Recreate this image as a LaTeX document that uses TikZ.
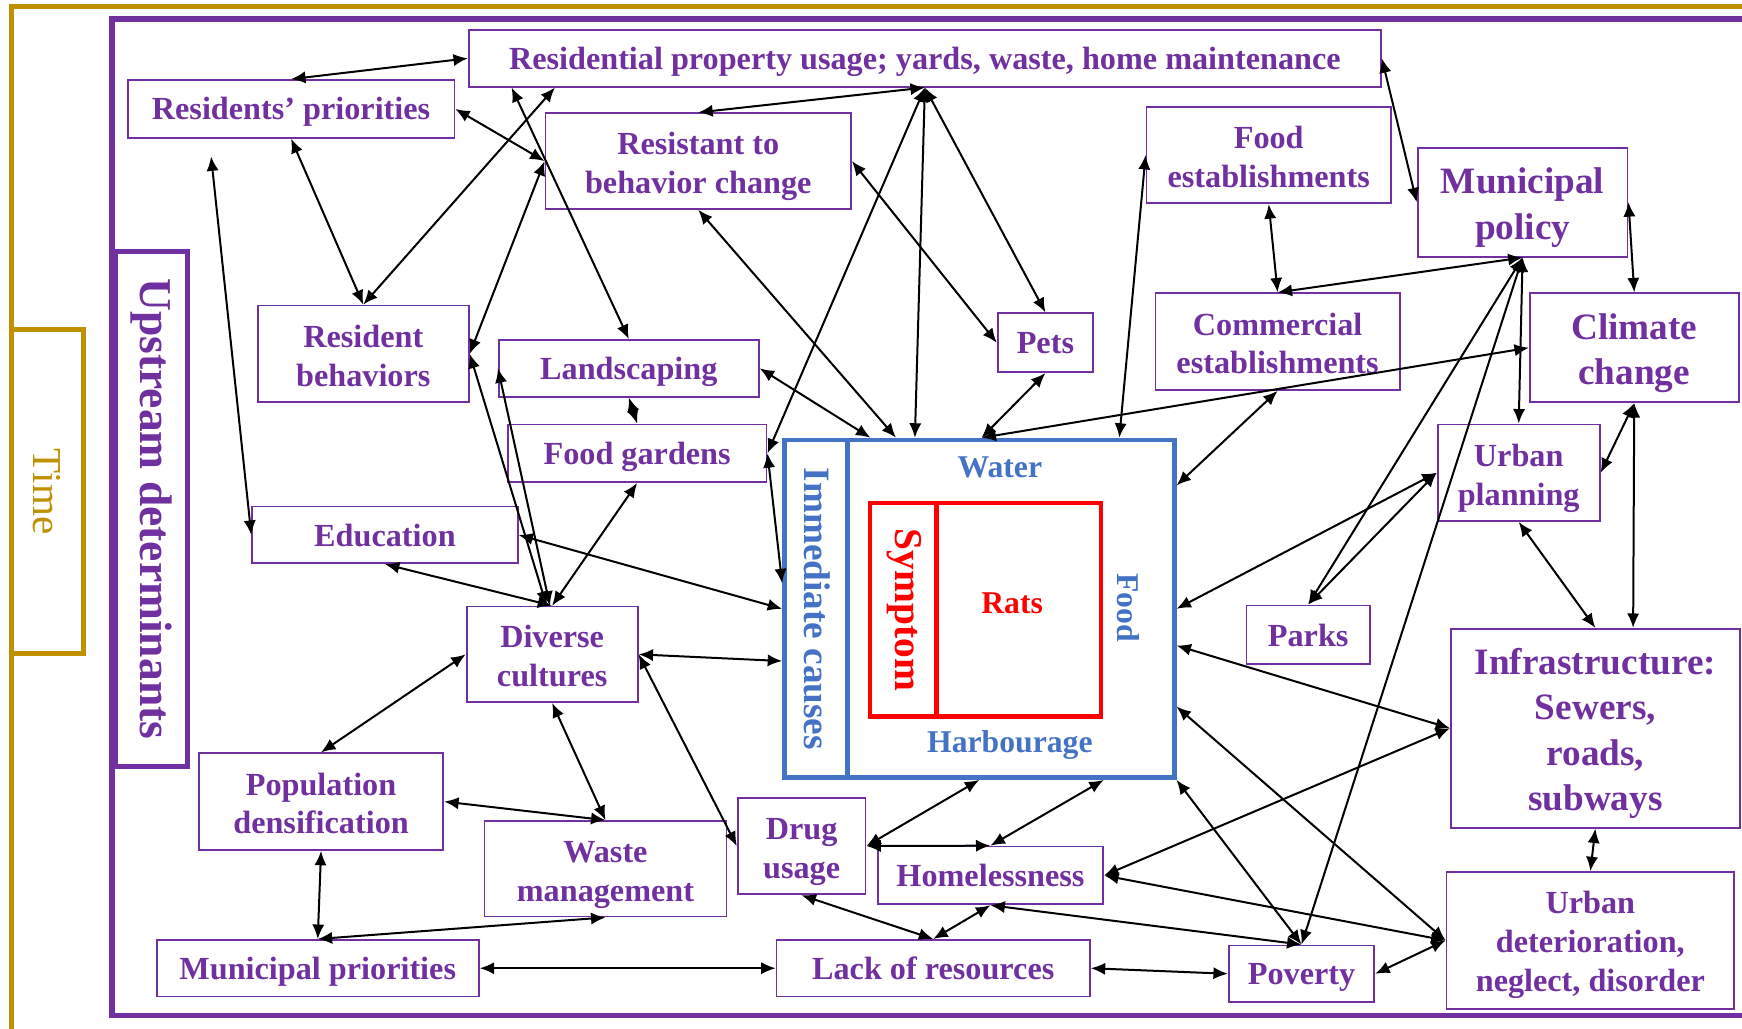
\documentclass[tikz,border=0pt]{standalone}
\usepackage{fontspec}
\setmainfont{Liberation Serif}
\definecolor{vio}{RGB}{112,48,160}
\definecolor{gld}{RGB}{191,144,0}
\definecolor{blu}{RGB}{68,114,196}
\definecolor{rd}{RGB}{255,0,0}
\usetikzlibrary{arrows.meta}

\begin{document}
\begin{tikzpicture}[x=1pt, y=-1pt, >={Latex[length=13pt,width=11pt]},
  box/.style={draw=vio, line width=1.6pt, text=vio, inner sep=0pt, align=center, font=\bfseries\fontsize{29}{35}\selectfont,
    text height=#1, text depth=5.8pt},
  box/.default=25.8pt,
  bigbox/.style={box=#1, font=\bfseries\fontsize{33.5}{41}\selectfont, text depth=6.7pt},
  lbl/.style={inner sep=0pt, align=center, font=\bfseries\fontsize{28.5}{34}\selectfont},
  link/.style={<->, line width=1.8pt, black}]
  \useasboundingbox (0,0) rectangle (1568,926);
  \clip (0,0) rectangle (1568,926);
  % frames
  \draw[gld, line width=4.5pt] (10,1000) -- (10,6) -- (1700,6);
  \draw[vio, line width=5pt] (1700,17) -- (101,17) -- (101,914) -- (1700,914);
  \node[draw=gld, line width=4.5pt, rotate=-90, minimum width=291pt, minimum height=65pt, text=gld, font=\fontsize{37}{40}\selectfont] (T_M) at (42.5,442.5) {Time};
  \node[draw=vio, line width=4.5pt, rotate=-90, minimum width=464pt, minimum height=65pt, text=vio, font=\bfseries\fontsize{41}{44}\selectfont] (U_S) at (136.5,458) {Upstream determinants};

  % upstream boxes
  \node[box, minimum width=821pt, minimum height=51pt] (R_U) at (832.5,52.5) {Residential property usage; yards, waste, home maintenance};
  \node[box, minimum width=294pt, minimum height=52pt] (R_P) at (262,98) {Residents’ priorities};
  \node[box=64pt, minimum width=275pt, minimum height=86pt] (R_C) at (628.5,145) {Resistant to\\behavior change};
  \node[box=64pt, minimum width=220pt, minimum height=87pt] (F_E) at (1142,139.5) {Food\\establishments};
  \node[bigbox=73.5pt, minimum width=189pt, minimum height=98pt] (M_P) at (1370.5,182) {Municipal\\policy};
  \node[box=64pt, minimum width=190pt, minimum height=87pt] (R_B) at (327,318.5) {Resident\\behaviors};
  \node[box, minimum width=234pt, minimum height=51pt] (L_S) at (566,331.5) {Landscaping};
  \node[box, minimum width=86pt, minimum height=53pt] (P_T) at (941,308.5) {Pets};
  \node[box=64pt, minimum width=220pt, minimum height=87pt] (C_E) at (1150,307.5) {Commercial\\establishments};
  \node[bigbox=73.5pt, minimum width=188pt, minimum height=98pt] (C_C) at (1471,313) {Climate\\change};
  \node[box, minimum width=233pt, minimum height=52pt] (F_G) at (573.5,408) {Food gardens};
  \node[box, minimum width=239pt, minimum height=51pt] (E_D) at (346.5,481.5) {Education};
  \node[box=64pt, minimum width=146pt, minimum height=87pt] (U_P) at (1367,425.5) {Urban\\planning};
  \node[box=64pt, minimum width=154pt, minimum height=86pt] (D_C) at (497,589) {Diverse\\cultures};
  \node[box, minimum width=111pt, minimum height=53pt] (P_K) at (1177.5,571.5) {Parks};
  \node[bigbox=155.5pt, minimum width=260pt, minimum height=179pt] (I_F) at (1436,655.5) {Infrastructure:\\Sewers,\\roads,\\subways};
  \node[box=64pt, minimum width=220pt, minimum height=87pt] (P_D) at (289,721.5) {Population\\densification};
  \node[box=64pt, minimum width=218pt, minimum height=86pt] (W_M) at (545,782) {Waste\\management};
  \node[box=64pt, minimum width=115pt, minimum height=87pt] (D_U) at (721.5,761.5) {Drug\\usage};
  \node[box, minimum width=203pt, minimum height=52pt] (H_L) at (891.5,788) {Homelessness};
  \node[box=98pt, minimum width=259pt, minimum height=123pt] (U_D) at (1431.5,846.5) {Urban\\deterioration,\\neglect, disorder};
  \node[box, minimum width=290pt, minimum height=51pt] (M_R) at (286,871.5) {Municipal priorities};
  \node[box, minimum width=282pt, minimum height=51pt] (L_R) at (840,871.5) {Lack of resources};
  \node[box, minimum width=131pt, minimum height=51pt] (P_V) at (1171.5,876.5) {Poverty};

  % immediate causes and symptom
  \node[draw=blu, line width=4pt, minimum width=351pt, minimum height=304pt] (I_C) at (881.5,548) {};
  \draw[blu, line width=4pt] ([xshift=59pt]I_C.north west) -- ([xshift=59pt]I_C.south west);
  \node[lbl, text=blu, rotate=-90, font=\bfseries\fontsize{33.5}{36}\selectfont] (I_T) at (735.5,548) {Immediate causes};
  \node[lbl, text=blu] (W_T) at (900,421) {Water};
  \node[lbl, text=blu] (H_T) at (909,671) {Harbourage};
  \node[lbl, text=blu, rotate=-90] (F_T) at (1016,547) {Food};
  \node[draw=rd, line width=4pt, minimum width=208pt, minimum height=192pt] (S_R) at (887,549) {};
  \draw[rd, line width=4pt] ([xshift=62pt]S_R.north west) -- ([xshift=62pt]S_R.south west);
  \node[lbl, text=rd, rotate=-90, font=\bfseries\fontsize{35.5}{38}\selectfont] (S_T) at (814,549) {Symptom};
  \node[lbl, text=rd] (R_T) at (911,543) {Rats};

  \path (R_P.north) edge [link] (R_U.west)
        ([xshift=-333pt]R_U.south) edge [link] (R_B.north)
        (R_P.south) edge [link] (R_B.north)
        (R_P.east) edge [link] (R_C.west)
        (R_C.west) edge [link] (R_B.east)
        ([xshift=-372pt]R_U.south) edge [link] (L_S.north)
        ([xshift=-72pt,yshift=-16pt]R_P.south) edge [link] (E_D.west)
        (R_C.south) edge [link] ([xshift=-75pt]I_C.north)
        (R_C.east) edge [link] (P_T.west)
        (R_U.south) edge [link] (R_C.north)
        (R_U.south) edge [link] (P_T.north)
        (R_U.south) edge [link] ([xshift=-58pt]I_C.north)
        (R_U.south) edge [link] (F_G.east)
        (R_U.east) edge [link] (M_P.west)
        (F_E.west) edge [link] ([xshift=126pt]I_C.north)
        (F_E.south) edge [link] (C_E.north)
        (M_P.south) edge [link] (C_E.north)
        (M_P.east) edge [link] (C_C.north)
        (M_P.south) edge [link] (U_P.north)
        (M_P.south) edge [link] (P_K.north)
        (M_P.south) edge [link] (P_V.north)
        (C_E.south) edge [link] ([yshift=111pt]I_C.east)
        (C_C.west) edge [link] ([xshift=2pt]I_C.north)
        (P_T.south) edge [link] ([xshift=2pt]I_C.north)
        (L_S.east) edge [link] ([xshift=-98pt]I_C.north)
        (L_S.south) edge [link] (F_G.north)
        (F_G.east) edge [link] ([yshift=23pt]I_C.west)
        (E_D.east) edge [link] (I_C.west)
        (F_G.south) edge [link] (D_C.north)
        (E_D.south) edge [link] (D_C.north)
        (R_B.east) edge [link] ([xshift=-5pt]D_C.north)
        (L_S.west) edge [link] ([xshift=-2pt]D_C.north)
        (D_C.east) edge [link] ([yshift=-47pt]I_C.west)
        (D_C.west) edge [link] (P_D.north)
        (D_C.south) edge [link] (W_M.north)
        (D_C.east) edge [link] (D_U.west)
        (P_D.east) edge [link] (W_M.north)
        (P_D.south) edge [link] (M_R.north)
        (M_R.north) edge [link] (W_M.south)
        (M_R.east) edge [link] (L_R.west)
        (D_U.east) edge [link] (I_C.south)
        (D_U.east) edge [link] (H_L.north)
        (H_L.north) edge [link] ([xshift=112pt]I_C.south)
        (D_U.south) edge [link] (L_R.north)
        (H_L.south) edge [link] (L_R.north)
        (H_L.east) edge [link] (I_F.west)
        (H_L.east) edge [link] (U_D.west)
        (H_L.south) edge [link] (P_V.north)
        (L_R.east) edge [link] (P_V.west)
        (P_V.east) edge [link] (U_D.west)
        (P_V.north) edge [link] (I_C.south east)
        (U_D.west) edge [link] ([yshift=-88pt]I_C.east)
        (I_F.west) edge [link] ([yshift=-33pt]I_C.east)
        (U_P.west) edge [link] (I_C.east)
        (U_P.west) edge [link] (P_K.north)
        (U_P.south) edge [link] (I_F.north)
        (C_C.south) edge [link] (U_P.east)
        (C_C.south) edge [link] ([xshift=34pt]I_F.north)
        (I_F.south) edge [link] (U_D.north)
        ;
\end{tikzpicture}
\end{document}
